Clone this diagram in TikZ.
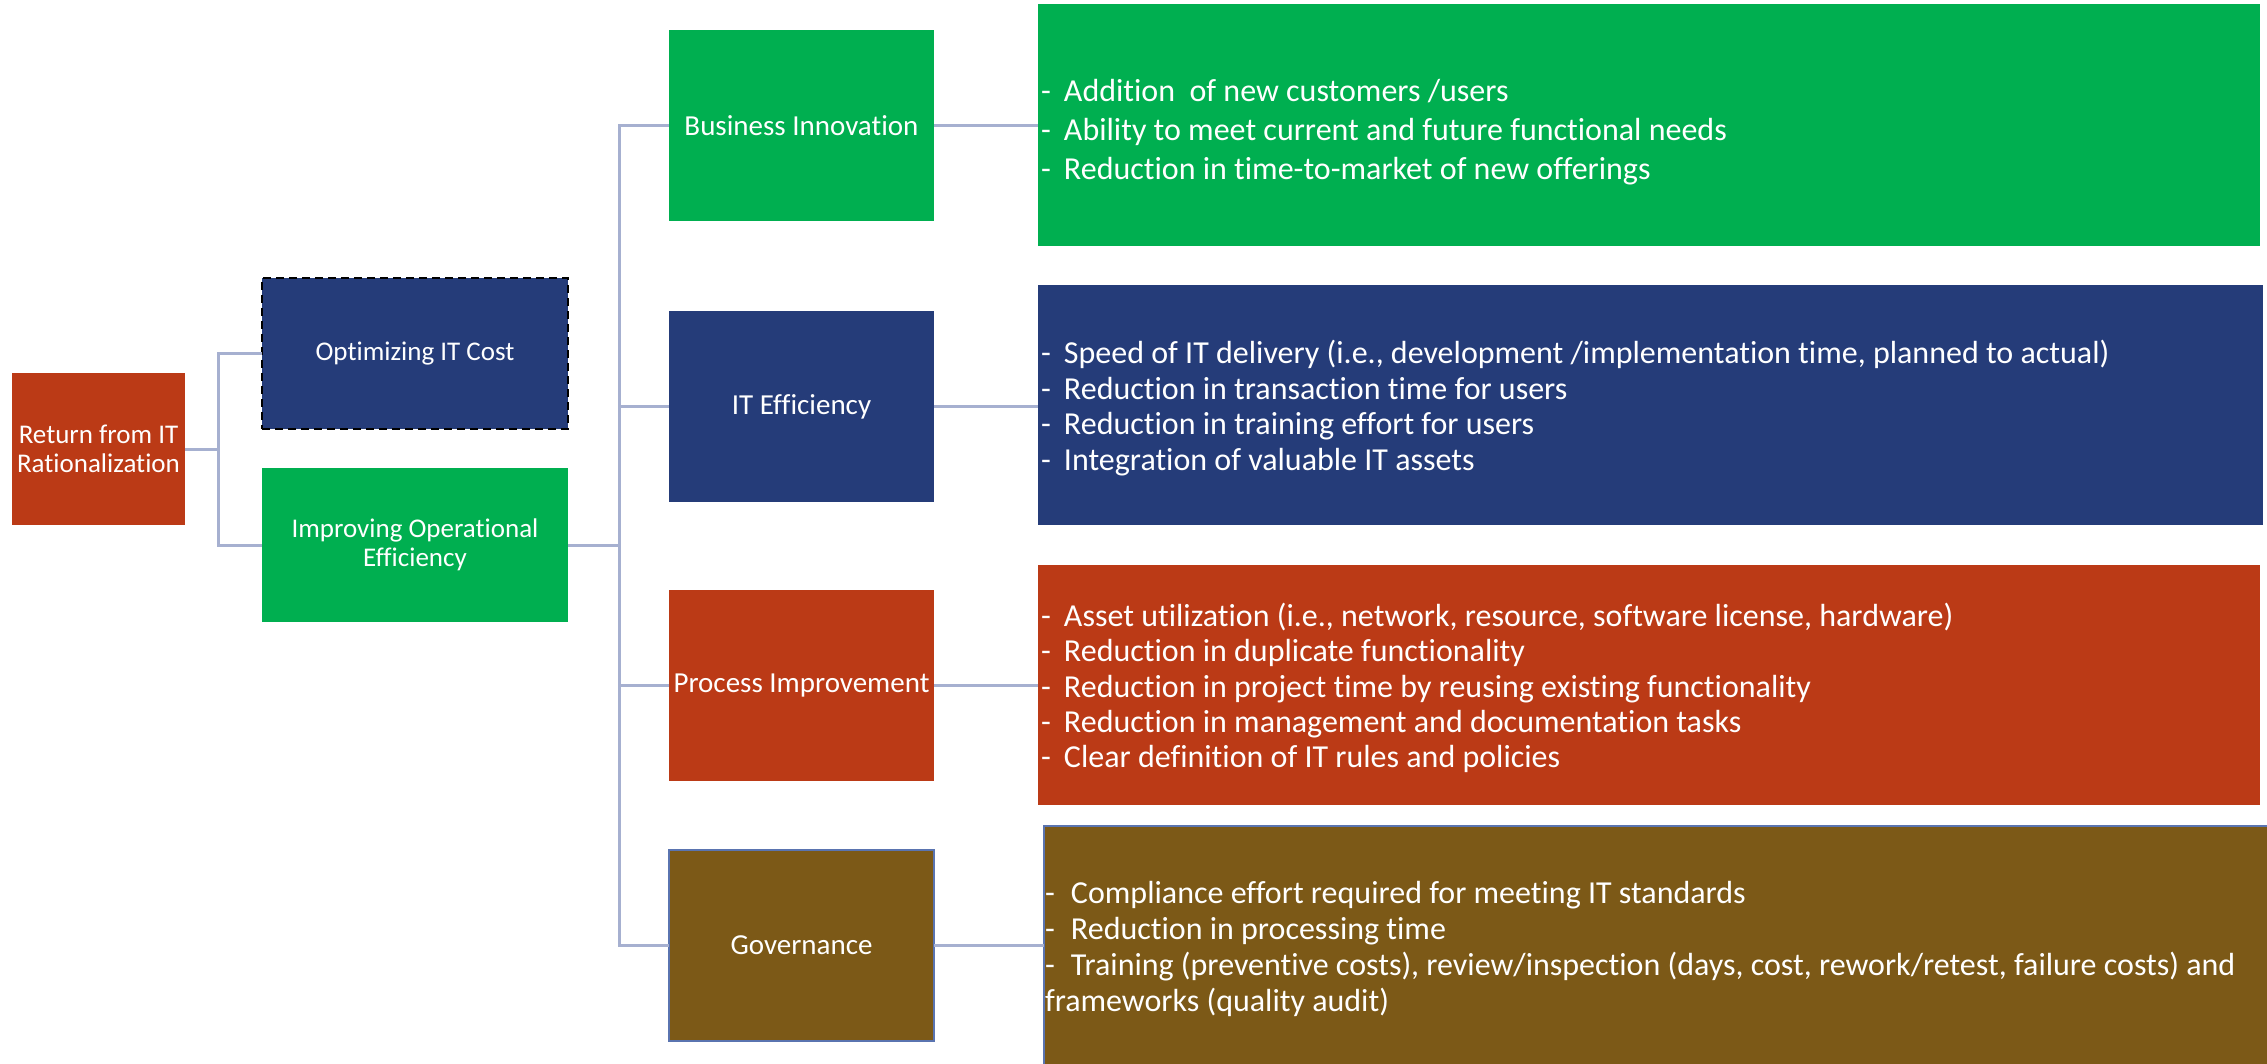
\documentclass[tikz,border=0pt]{standalone}
\usepackage{fontspec}
\setmainfont{Carlito}[RawFeature={-liga}]
\definecolor{cgreen}{HTML}{00AF50}
\definecolor{cblue}{HTML}{253C79}
\definecolor{cred}{HTML}{BB3A16}
\definecolor{cbrown}{HTML}{7C5917}
\definecolor{cline}{HTML}{A6B0D0}
\definecolor{cborder}{HTML}{5A74B0}
\newcommand{\itm}[1]{\makebox[23pt][l]{-}#1}
\newcommand{\itmb}[1]{\makebox[26pt][l]{-}#1}
\begin{document}
\begin{tikzpicture}[x=1pt,y=-1pt,
  box/.style={rectangle, inner sep=0pt, outer sep=0pt, text=white, align=center},
  leftlbl/.style={box, font=\fontsize{27}{29}\selectfont},
  midlbl/.style={box, font=\fontsize{29}{33}\selectfont},
  txt/.style={inner sep=0pt, outer sep=0pt, text=white, align=left, anchor=west},
  conn/.style={draw=cline, line width=3pt}]
\useasboundingbox (0,0) rectangle (2267,1063);
% left column
\node[leftlbl, fill=cred, minimum width=173pt, minimum height=152pt] (ret) at (98.5,449) {Return from IT\\Rationalization};
\node[leftlbl, fill=cblue, draw=black, dashed, dash pattern=on 8pt off 5pt, line width=2.5pt, minimum width=306pt, minimum height=151pt] (opt) at (415,353.5) {Optimizing IT Cost};
\node[leftlbl, fill=cgreen, minimum width=306pt, minimum height=154pt] (imp) at (415,545) {Improving Operational\\Efficiency};
% middle column
\node[midlbl, fill=cgreen, minimum width=265pt, minimum height=191pt] (bi) at (801.5,125.5) {Business Innovation};
\node[midlbl, fill=cblue, minimum width=265pt, minimum height=191pt] (ite) at (801.5,406.5) {IT Efficiency};
\node[midlbl, fill=cred, minimum width=265pt, minimum height=191pt] (pi) at (801.5,685.5) {Process Improvement};
\node[midlbl, fill=cbrown, draw=cborder, line width=2pt, minimum width=265pt, minimum height=191pt] (gov) at (801.5,945.5) {Governance};
% right boxes
\node[box, fill=cgreen, minimum width=1222pt, minimum height=242pt] (gr) at (1649,125) {};
\node[box, fill=cblue, minimum width=1225pt, minimum height=240pt] (bl) at (1650.5,405) {};
\node[box, fill=cred, minimum width=1222pt, minimum height=240pt] (rd) at (1649,685) {};
\node[box, fill=cbrown, draw=cborder, line width=2pt, minimum width=1228pt, minimum height=240pt] (br) at (1658,946) {};
% right texts
\node[txt, font=\fontsize{32}{39}\selectfont] (grt) at (1041,132) {\itm{Addition\ \ of new customers /users}\\\itm{Ability to meet current and future functional needs}\\\itm{Reduction in time-to-market of new offerings}};
\node[txt, font=\fontsize{32}{35.7}\selectfont] (blt) at (1041,408) {\itm{Speed of IT delivery (i.e., development /implementation time, planned to actual)}\\\itm{Reduction in transaction time for users}\\\itm{Reduction in training effort for users}\\\itm{Integration of valuable IT assets}};
\node[txt, font=\fontsize{32}{35.2}\selectfont] (rdt) at (1041,688) {\itm{Asset utilization (i.e., network, resource, software license, hardware)}\\\itm{Reduction in duplicate functionality}\\\itm{Reduction in project time by reusing existing functionality}\\\itm{Reduction in management and documentation tasks}\\\itm{Clear definition of IT rules and policies}};
\node[txt, font=\fontsize{32}{36}\selectfont] (brt) at (1045,949) {\itmb{Compliance effort required for meeting IT standards}\\\itmb{Reduction in processing time}\\\itmb{Training (preventive costs), review/inspection (days, cost, rework/retest, failure costs) and}\\frameworks (quality audit)};
% connectors
\coordinate (j1) at (218,449);
\coordinate (j2) at (619,545);
\draw[conn] (ret.east) -- (j1);
\draw[conn] (opt.west) -| (j1) |- (imp.west);
\draw[conn] (imp.east) -- (j2);
\draw[conn] (bi.west) -| (j2) |- (gov.west);
\draw[conn] (ite.west) -- (ite.west -| j2);
\draw[conn] (pi.west) -- (pi.west -| j2);
\draw[conn] (bi.east) -- (bi.east -| gr.west);
\draw[conn] (ite.east) -- (ite.east -| bl.west);
\draw[conn] (pi.east) -- (pi.east -| rd.west);
\draw[conn] (gov.east) -- (gov.east -| br.west);
\end{tikzpicture}
\end{document}
